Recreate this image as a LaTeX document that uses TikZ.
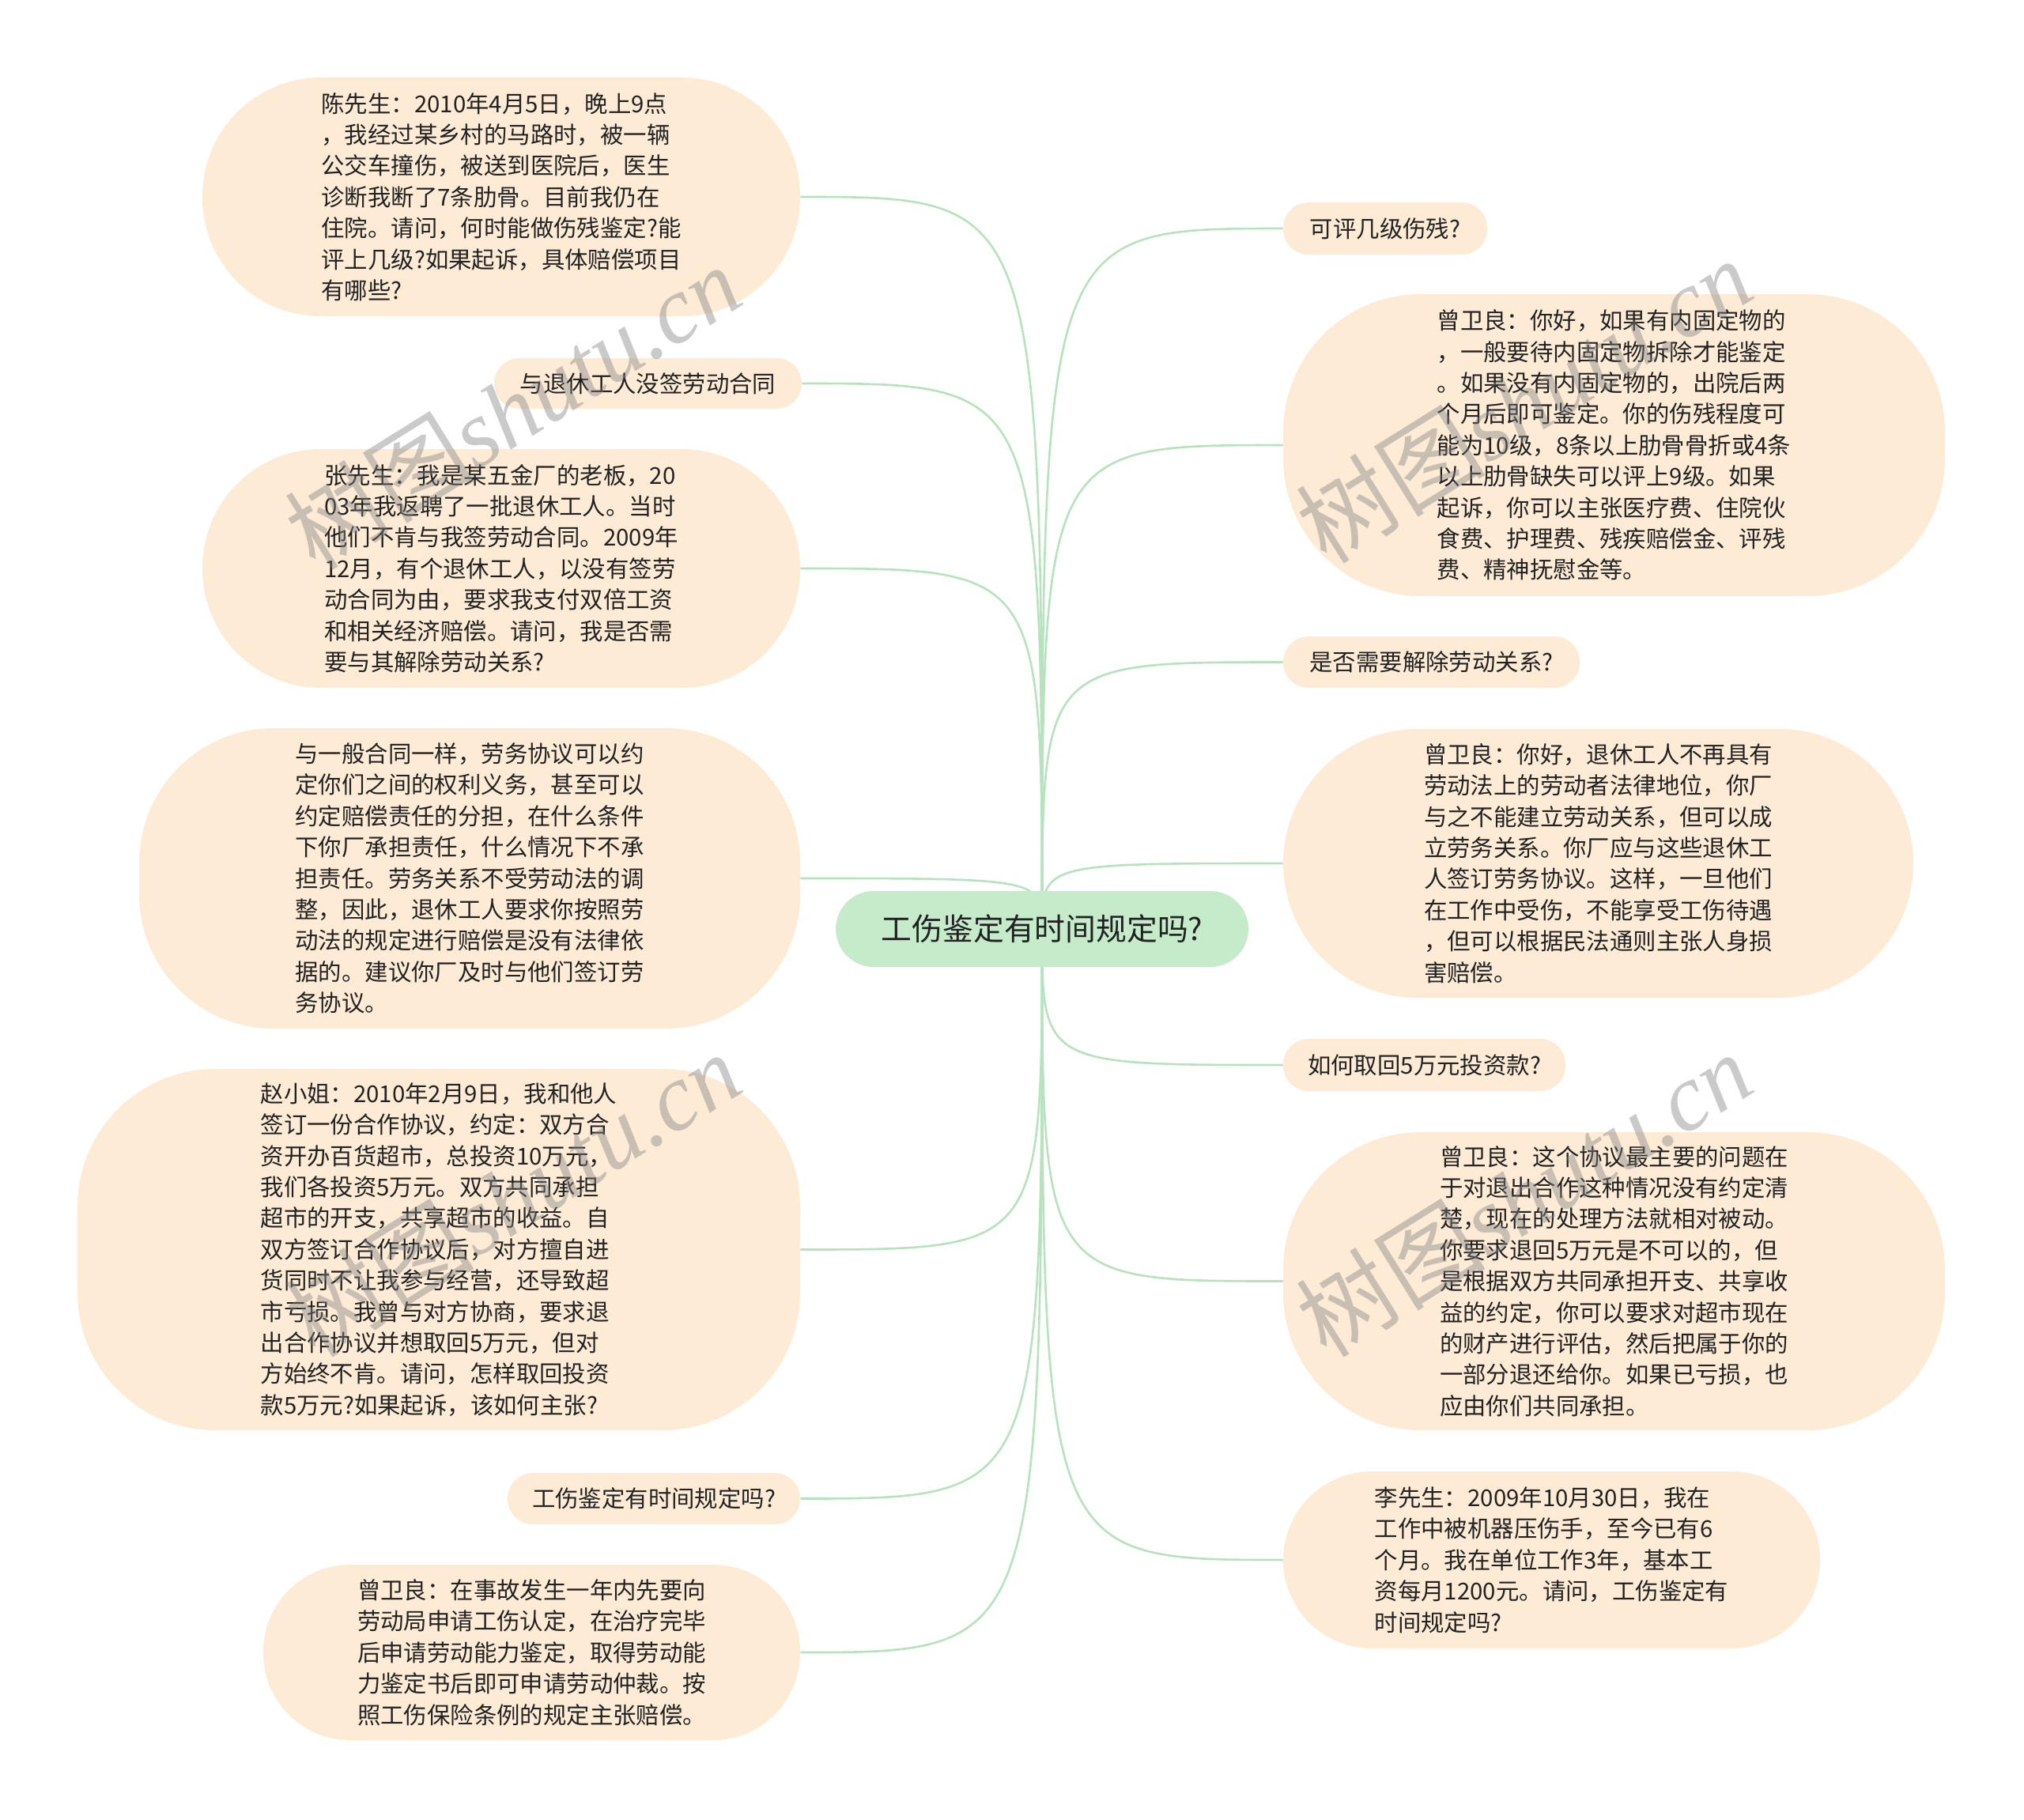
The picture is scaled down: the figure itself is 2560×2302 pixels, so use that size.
\documentclass[tikz,border=0pt]{standalone}
\usepackage{fontspec}
\setmainfont{Noto Sans CJK SC}
\newfontfamily\wmlatin{Liberation Serif}
\usetikzlibrary{backgrounds}
\definecolor{boxfill}{RGB}{253,235,213}
\definecolor{rootfill}{RGB}{197,235,203}
\definecolor{linkc}{RGB}{183,226,190}
\definecolor{txt}{RGB}{34,34,34}
\begin{document}
\begin{tikzpicture}[x=0.5pt,y=-0.5pt,
  box/.style n args={3}{fill=boxfill, text=txt, minimum width=#1, minimum height=#2,
    rounded corners=#3, inner sep=0pt, align=left,
    font=\fontsize{14.7}{19.7}\selectfont},
  rootbox/.style={fill=rootfill, text=txt, minimum width=261pt, minimum height=48pt,
    rounded corners=24pt, inner sep=0pt, font=\fontsize{19.4}{23}\selectfont},
  link/.style={draw=linkc, line width=1.3pt},
  wm/.style={text=black!50, text opacity=0.42, rotate=32, inner sep=0pt,
    font=\fontsize{60}{60}\selectfont}]
\useasboundingbox (0,0) rectangle (2560,2302);

% root
\node[rootbox] (root) at (1318,1175) {工伤鉴定有时间规定吗?};

% left side
\node[box={378pt}{151pt}{75pt}] (n1) at (634,249) {陈先生：2010年4月5日，晚上9点\\，我经过某乡村的马路时，被一辆\\公交车撞伤，被送到医院后，医生\\诊断我断了7条肋骨。目前我仍在\\住院。请问，何时能做伤残鉴定?能\\评上几级?如果起诉，具体赔偿项目\\有哪些?};
\node[box={194.5pt}{32pt}{16pt}] (n2) at (819.5,485) {与退休工人没签劳动合同};
\node[box={378pt}{151pt}{75pt}] (n3) at (634,719) {张先生：我是某五金厂的老板，20\\03年我返聘了一批退休工人。当时\\他们不肯与我签劳动合同。2009年\\12月，有个退休工人，以没有签劳\\动合同为由，要求我支付双倍工资\\和相关经济赔偿。请问，我是否需\\要与其解除劳动关系?};
\node[box={418pt}{190pt}{85pt}] (n4) at (594,1111) {与一般合同一样，劳务协议可以约\\定你们之间的权利义务，甚至可以\\约定赔偿责任的分担，在什么条件\\下你厂承担责任，什么情况下不承\\担责任。劳务关系不受劳动法的调\\整，因此，退休工人要求你按照劳\\动法的规定进行赔偿是没有法律依\\据的。建议你厂及时与他们签订劳\\务协议。};
\node[box={457pt}{228.5pt}{87pt}] (n5) at (555,1580.5) {赵小姐：2010年2月9日，我和他人\\签订一份合作协议，约定：双方合\\资开办百货超市，总投资10万元，\\我们各投资5万元。双方共同承担\\超市的开支，共享超市的收益。自\\双方签订合作协议后，对方擅自进\\货同时不让我参与经营，还导致超\\市亏损。我曾与对方协商，要求退\\出合作协议并想取回5万元，但对\\方始终不肯。请问，怎样取回投资\\款5万元?如果起诉，该如何主张?};
\node[box={185pt}{32.5pt}{16pt}] (n6) at (827,1895.5) {工伤鉴定有时间规定吗?};
\node[box={339.5pt}{111pt}{55pt}] (n7) at (672.5,2090) {曾卫良：在事故发生一年内先要向\\劳动局申请工伤认定，在治疗完毕\\后申请劳动能力鉴定，取得劳动能\\力鉴定书后即可申请劳动仲裁。按\\照工伤保险条例的规定主张赔偿。};

% right side
\node[box={129pt}{33pt}{16pt}] (n8) at (1752,289) {可评几级伤残?};
\node[box={418.5pt}{191pt}{87pt}] (n9) at (2041.5,563) {曾卫良：你好，如果有内固定物的\\，一般要待内固定物拆除才能鉴定\\。如果没有内固定物的，出院后两\\个月后即可鉴定。你的伤残程度可\\能为10级，8条以上肋骨骨折或4条\\以上肋骨缺失可以评上9级。如果\\起诉，你可以主张医疗费、住院伙\\食费、护理费、残疾赔偿金、评残\\费、精神抚慰金等。};
\node[box={187.5pt}{32.5pt}{16pt}] (n10) at (1810.5,837.5) {是否需要解除劳动关系?};
\node[box={398.5pt}{170pt}{85pt}] (n11) at (2021.5,1092) {曾卫良：你好，退休工人不再具有\\劳动法上的劳动者法律地位，你厂\\与之不能建立劳动关系，但可以成\\立劳务关系。你厂应与这些退休工\\人签订劳务协议。这样，一旦他们\\在工作中受伤，不能享受工伤待遇\\，但可以根据民法通则主张人身损\\害赔偿。};
\node[box={178.5pt}{33pt}{16pt}] (n12) at (1801.5,1347) {如何取回5万元投资款?};
\node[box={418.5pt}{188.5pt}{87pt}] (n13) at (2041.5,1620.5) {曾卫良：这个协议最主要的问题在\\于对退出合作这种情况没有约定清\\楚，现在的处理方法就相对被动。\\你要求退回5万元是不可以的，但\\是根据双方共同承担开支、共享收\\益的约定，你可以要求对超市现在\\的财产进行评估，然后把属于你的\\一部分退还给你。如果已亏损，也\\应由你们共同承担。};
\node[box={339.5pt}{112pt}{56pt}] (n14) at (1962.5,1973) {李先生：2009年10月30日，我在\\工作中被机器压伤手，至今已有6\\个月。我在单位工作3年，基本工\\资每月1200元。请问，工伤鉴定有\\时间规定吗?};

% connectors
\begin{pgfonlayer}{background}
\foreach \n in {n1,n2,n3,n4,n5,n6,n7}
  \draw[link] (root.center) .. controls (root.center |- \n.east) and (root.center |- \n.east) .. (\n.east);
\foreach \n in {n8,n9,n10,n11,n12,n13,n14}
  \draw[link] (root.center) .. controls (root.center |- \n.west) and (root.center |- \n.west) .. (\n.west);
\end{pgfonlayer}

% watermarks
\node[wm] (wm1) at (648,514) {树图{\wmlatin\itshape shutu.cn}};
\node[wm] (wm2) at (1927,506) {树图{\wmlatin\itshape shutu.cn}};
\node[wm] (wm3) at (648,1510) {树图{\wmlatin\itshape shutu.cn}};
\node[wm] (wm4) at (1927,1510) {树图{\wmlatin\itshape shutu.cn}};
\end{tikzpicture}
\end{document}
